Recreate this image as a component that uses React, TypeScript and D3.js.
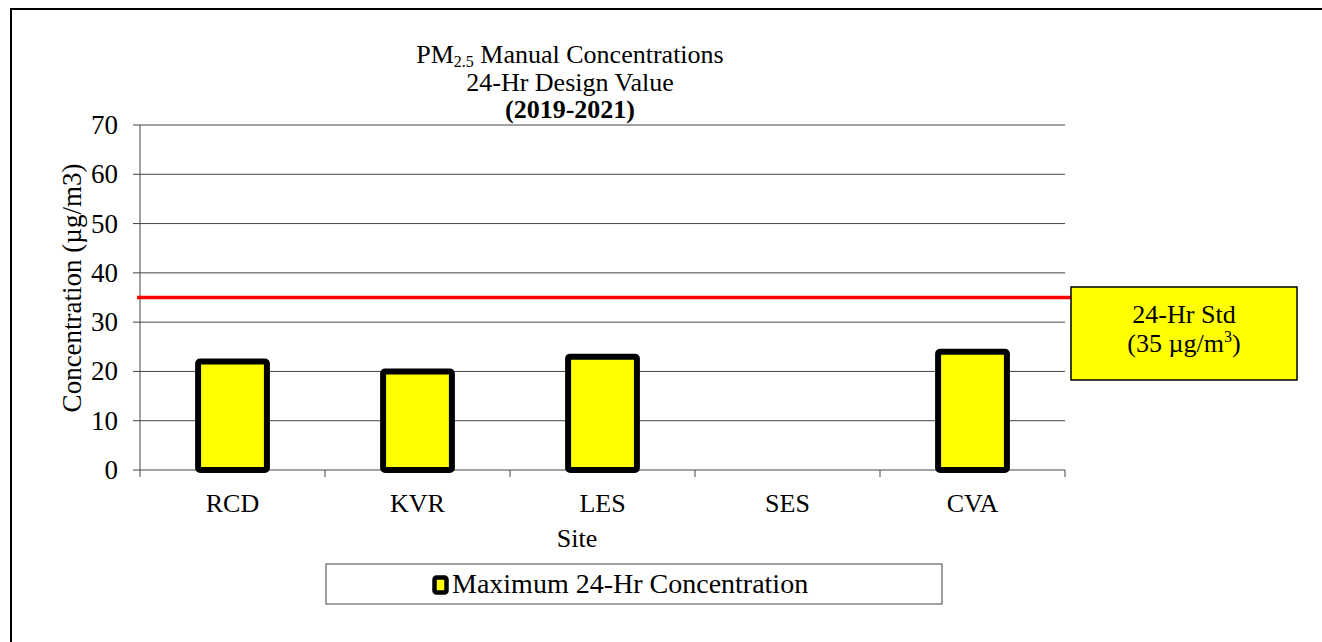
import React from 'react';
import * as d3 from 'd3';

const sites = ['RCD', 'KVR', 'LES', 'SES', 'CVA'];
const maxConc: (number | null)[] = [22, 20, 23, null, 24];
const yTicks = [0, 10, 20, 30, 40, 50, 60, 70];
const standard = 35;

const W = 1322;
const H = 642;
const font = '"Liberation Serif", "Times New Roman", serif';

const App = () => {
  const plot = { left: 140, right: 1065, top: 125, bottom: 470 };

  const x = d3.scaleBand<string>()
    .domain(sites)
    .range([plot.left, plot.right]);

  const y = d3.scaleLinear()
    .domain([0, 70])
    .range([plot.bottom, plot.top]);

  const barW = x.step() * 0.372;

  return (
    <svg width={W} height={H} style={{ position: 'absolute', left: 0, top: 0, fontFamily: font }}>
      <rect x={0} y={0} width={W} height={H} fill="#fff" />
      {/* outer frame */}
      <rect x={11} y={9} width={W + 20} height={H + 20} fill="none" stroke="#000" strokeWidth={2} />

      {/* title */}
      <text x={570} y={63} textAnchor="middle" fontSize={26}>
        PM<tspan fontSize={16} dy={4}>2.5</tspan><tspan dy={-4}> Manual Concentrations</tspan>
      </text>
      <text x={570} y={91} textAnchor="middle" fontSize={26}>24-Hr Design Value</text>
      <text x={570} y={118} textAnchor="middle" fontSize={26} fontWeight="bold">(2019-2021)</text>

      {/* gridlines */}
      {yTicks.map(t => (
        <line key={t} x1={plot.left - 7} x2={plot.right} y1={y(t)} y2={y(t)} stroke="#444" strokeWidth={1} />
      ))}
      {/* y axis */}
      <line x1={plot.left} x2={plot.left} y1={plot.top} y2={plot.bottom + 7} stroke="#444" strokeWidth={1} />
      {yTicks.map(t => (
        <text key={t} x={plot.left - 22} y={y(t) + 9} textAnchor="end" fontSize={27}>{t}</text>
      ))}
      {/* x category ticks */}
      {sites.map((s, i) => (
        <line key={s} x1={plot.left + x.step() * (i + 1)} x2={plot.left + x.step() * (i + 1)}
          y1={plot.bottom} y2={plot.bottom + 7} stroke="#444" strokeWidth={1} />
      ))}
      {sites.map(s => (
        <text key={s} x={(x(s) ?? 0) + x.bandwidth() / 2} y={512} textAnchor="middle" fontSize={26}>{s}</text>
      ))}
      <text x={577} y={547} textAnchor="middle" fontSize={26}>Site</text>
      <text transform={`translate(81,288) rotate(-90)`} textAnchor="middle" fontSize={27}>
        Concentration (µg/m3)
      </text>

      {/* bars */}
      {sites.map((s, i) => {
        const v = maxConc[i];
        if (v == null) return null;
        const cx = (x(s) ?? 0) + x.bandwidth() / 2;
        return (
          <rect key={s} x={cx - barW / 2} y={y(v)} width={barW} height={y(0) - y(v)}
            fill="#ffff00" stroke="#000" strokeWidth={6} rx={2} />
        );
      })}

      {/* standard line */}
      <line x1={plot.left - 3} x2={1072} y1={y(standard)} y2={y(standard)} stroke="#ff0000" strokeWidth={3.5} />
      <rect x={1071} y={287} width={226} height={93} fill="#ffff00" stroke="#000" strokeWidth={1.5} />
      <text x={1184} y={323} textAnchor="middle" fontSize={26}>24-Hr Std</text>
      <text x={1184} y={352} textAnchor="middle" fontSize={26}>
        (35 µg/m<tspan fontSize={16} dy={-10}>3</tspan><tspan dy={10}>)</tspan>
      </text>

      {/* legend */}
      <rect x={326} y={564} width={616} height={40} fill="#fff" stroke="#444" strokeWidth={1} />
      <rect x={434.5} y={577.5} width={12} height={15} fill="#ffff00" stroke="#000" strokeWidth={4.5} rx={2} />
      <text x={452} y={593} fontSize={28}>Maximum 24-Hr Concentration</text>
    </svg>
  );
};

export default App;
